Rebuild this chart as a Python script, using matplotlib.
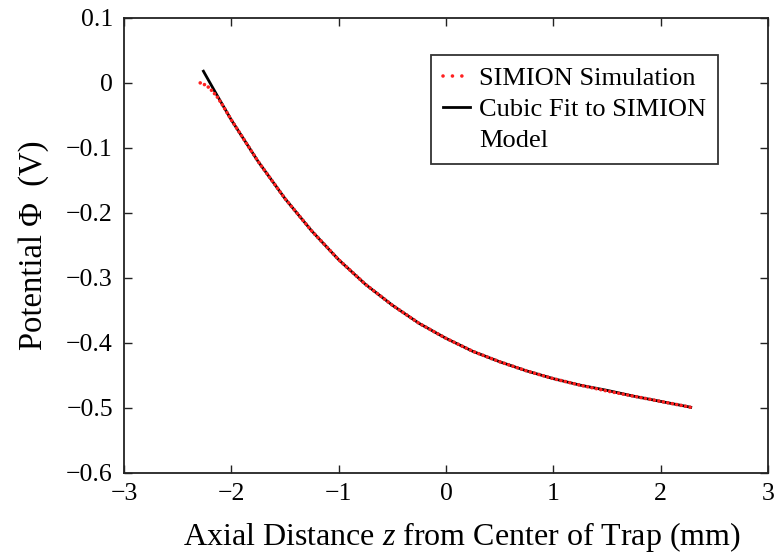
import matplotlib
matplotlib.use("Agg")
import matplotlib.pyplot as plt
from matplotlib.lines import Line2D

plt.rcParams['font.family'] = ['Liberation Serif', 'DejaVu Serif']
plt.rcParams['mathtext.fontset'] = 'custom'
plt.rcParams['mathtext.rm'] = 'Liberation Serif'
plt.rcParams['mathtext.it'] = 'Liberation Serif:italic'

# SIMION simulation (red dotted)
sim_z = [-2.29, -2.245, -2.21, -2.17, -2.13, -2.09, -2.0, -1.75, -1.5, -1.25, -1.0,
         -0.75, -0.5, -0.25, 0.0, 0.25, 0.5, 0.75, 1.0, 1.25, 1.5, 1.75, 2.0, 2.25, 2.30]
sim_phi = [0.000, -0.003, -0.007, -0.014, -0.022, -0.032, -0.057, -0.121, -0.178, -0.228,
           -0.272, -0.310, -0.342, -0.370, -0.393, -0.413, -0.429, -0.443, -0.455, -0.465,
           -0.474, -0.482, -0.490, -0.498, -0.500]

# Cubic fit (black solid)
fit_z = [-2.26, -2.25, -2.13, -2.0, -1.75, -1.5, -1.25, -1.0, -0.75, -0.5, -0.25,
         0.0, 0.25, 0.5, 0.75, 1.0, 1.25, 1.5, 1.75, 2.0, 2.25, 2.28]
fit_phi = [0.018, 0.015, -0.020, -0.057, -0.121, -0.178, -0.228, -0.272, -0.310, -0.342, -0.370,
           -0.393, -0.413, -0.429, -0.443, -0.455, -0.465, -0.473, -0.482, -0.490, -0.498, -0.499]

x_ticks = [-3, -2, -1, 0, 1, 2, 3]
y_ticks = [0.1, 0, -0.1, -0.2, -0.3, -0.4, -0.5, -0.6]
x_labels = ['\u22123', '\u22122', '\u22121', '0', '1', '2', '3']
y_labels = ['0.1', '0', '\u22120.1', '\u22120.2', '\u22120.3', '\u22120.4', '\u22120.5', '\u22120.6']

fig = plt.figure(figsize=(7.75, 5.59), dpi=100)
ax = fig.add_axes([0.160, 0.154, 0.831, 0.814])

ax.plot(fit_z, fit_phi, color='black', lw=2.0, zorder=2)
ax.plot(sim_z, sim_phi, color='#ff2020', lw=2.6, dashes=(0.01, 1.25),
        dash_capstyle='round', zorder=3)

ax.set_xlim(-3, 3)
ax.set_ylim(-0.6, 0.1)
ax.set_xticks(x_ticks)
ax.set_yticks(y_ticks)
ax.set_xticklabels(x_labels)
ax.set_yticklabels(y_labels)
ax.tick_params(direction='in', top=True, right=True, length=6, width=1.0,
               labelsize=18.5, colors='#222222', labelcolor='black')
ax.tick_params(axis='y', pad=8)
ax.tick_params(axis='x', pad=7)
for s in ax.spines.values():
    s.set_linewidth(1.3)
    s.set_color('#222222')

ax.set_xlabel('Axial Distance $z$ from Center of Trap (mm)', fontsize=23, labelpad=11, x=0.525)
ax.set_ylabel('Potential \u03a6  (V)', fontsize=23.5, labelpad=12)

h1 = Line2D([], [], color='#ff2020', lw=2.6, dashes=(0.01, 2.6), dash_capstyle='round')
h2 = Line2D([], [], color='black', lw=2.0)
h3 = Line2D([], [], color='none', lw=0)
leg = ax.legend([h1, h2, h3], ['SIMION Simulation', 'Cubic Fit to SIMION', 'Model'],
                loc='upper right', bbox_to_anchor=(0.922, 0.919), borderaxespad=0,
                fontsize=19, frameon=True, fancybox=False, handlelength=1.0,
                handletextpad=0.35, borderpad=0.45, labelspacing=0.28)
leg.get_frame().set_edgecolor('black')
leg.get_frame().set_linewidth(1.3)

fig.savefig('out.png', dpi=100)
